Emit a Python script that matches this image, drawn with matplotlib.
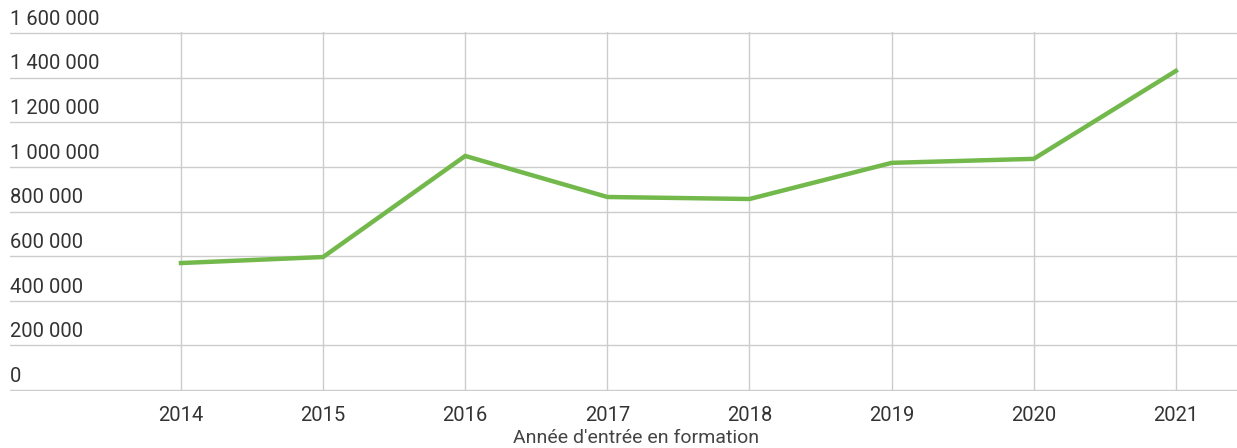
import matplotlib.pyplot as plt
import matplotlib.transforms as mtransforms

years = [2014, 2015, 2016, 2017, 2018, 2019, 2020, 2021]
entrants = [569000, 596000, 1049000, 865000, 856000, 1018000, 1036000, 1430000]
y_ticks = [0, 200000, 400000, 600000, 800000, 1000000, 1200000, 1400000, 1600000]
y_labels = ["0", "200 000", "400 000", "600 000", "800 000",
            "1 000 000", "1 200 000", "1 400 000", "1 600 000"]
x_label = "Année d'entrée en formation"

plt.rcParams['font.family'] = ['Roboto', 'DejaVu Sans']

fig = plt.figure(figsize=(12.37, 4.48), dpi=100)
# axes spans pixels x 10..1237, y 33..390 (plus 1 px margin for edge gridlines)
ax = fig.add_axes([10 / 1237, 57 / 448, 1227 / 1237, 359 / 448])

ax.plot(years, entrants, color="#72b84b", linewidth=3.2,
        solid_joinstyle="miter", zorder=3)

ax.set_xlim(2012.797, 2021.43)
ax.set_ylim(-4500, 1604500)
ax.set_xticks(years)
ax.set_xticklabels([str(y) for y in years], fontsize=14.5, color="#333333")
ax.set_yticks(y_ticks)
ax.set_yticklabels([])
ax.tick_params(length=0, pad=11)
ax.grid(True, color="#cccccc", linewidth=1)
for s in ax.spines.values():
    s.set_visible(False)

trans = mtransforms.blended_transform_factory(ax.transAxes, ax.transData)
for v, lab in zip(y_ticks, y_labels):
    ax.annotate(lab, xy=(0, v), xycoords=trans, xytext=(0, 3),
                textcoords="offset points", ha="left", va="bottom",
                fontsize=14.5, color="#333333")

ax.set_xlabel(x_label, fontsize=14, color="#444444")
ax.xaxis.set_label_coords((636 - 10) / 1227, -0.105)

fig.savefig("out.png", dpi=100)
